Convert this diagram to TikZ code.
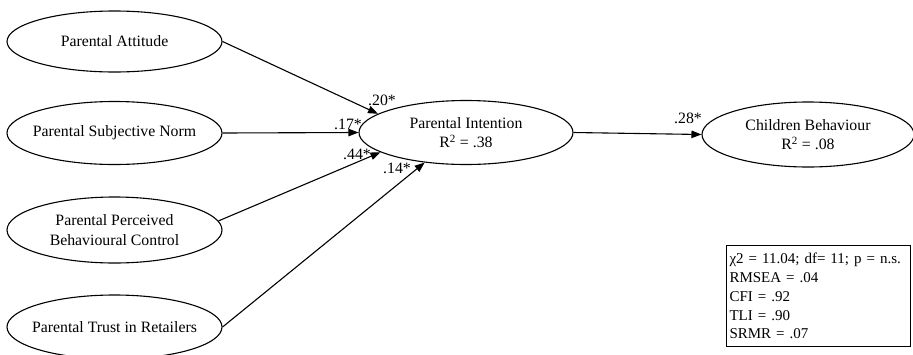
\documentclass[tikz,border=0pt]{standalone}
\usepackage{fontspec}
\setmainfont{Liberation Serif}
\usetikzlibrary{shapes.geometric,arrows.meta}
\begin{document}
\begin{tikzpicture}[x=1pt,y=-1pt,
  every node/.style={font=\fontsize{15.8}{19}\selectfont},
  construct/.style={ellipse,draw,line width=1.1pt,inner xsep=-40pt,inner ysep=-6pt,align=center,minimum width=215pt},
  path/.style={line width=1.1pt,-{Triangle[length=10pt,width=7.5pt]}},
  coef/.style={inner sep=0pt},
  statbox/.style={draw,line width=1.1pt,rectangle,align=left,text width=178pt,inner xsep=3pt,inner ysep=0pt,anchor=north west,font=\fontsize{15}{18.8}\selectfont}
]
\useasboundingbox (0,0) rectangle (913,354);

\node[construct,minimum height=61pt] (att) at (114.5,41.5) {Parental Attitude};
\node[construct,minimum height=63pt] (sn) at (114.5,133) {Parental Subjective Norm};
\node[construct,minimum height=66pt] (pbc) at (114.5,230) {Parental Perceived\\[1pt]Behavioural Control};
\node[construct,minimum height=64pt] (trust) at (114.5,327) {Parental Trust in Retailers};

\node[construct,minimum width=214pt,minimum height=64pt] (pi) at (466,132.5) {Parental Intention\\R\textsuperscript{2} = .38};
\node[construct,minimum width=212pt,minimum height=65pt] (cb) at (808,134.5) {Children Behaviour\\R\textsuperscript{2} = .08};

\draw[path] (att.east) -- (pi.168.8);
\draw[path] (sn.east) -- (pi.west);
\draw[path] (pbc.5) -- (pi.193.9);
\draw[path] (trust.east) -- (pi.216);
\draw[path] (pi.east) -- (cb.west);

\node[coef] (l20) at (382,100) {.20*};
\node[coef] (l17) at (348,124) {.17*};
\node[coef] (l44) at (357,154) {.44*};
\node[coef] (l14) at (397,168) {.14*};
\node[coef] (l28) at (688,118) {.28*};

\node[statbox,minimum height=101pt] (stats) at (726,245) {χ2 = 11.04; df= 11; p = n.s.\\RMSEA = .04\\CFI = .92\\TLI = .90\\SRMR = .07};
\end{tikzpicture}
\end{document}
